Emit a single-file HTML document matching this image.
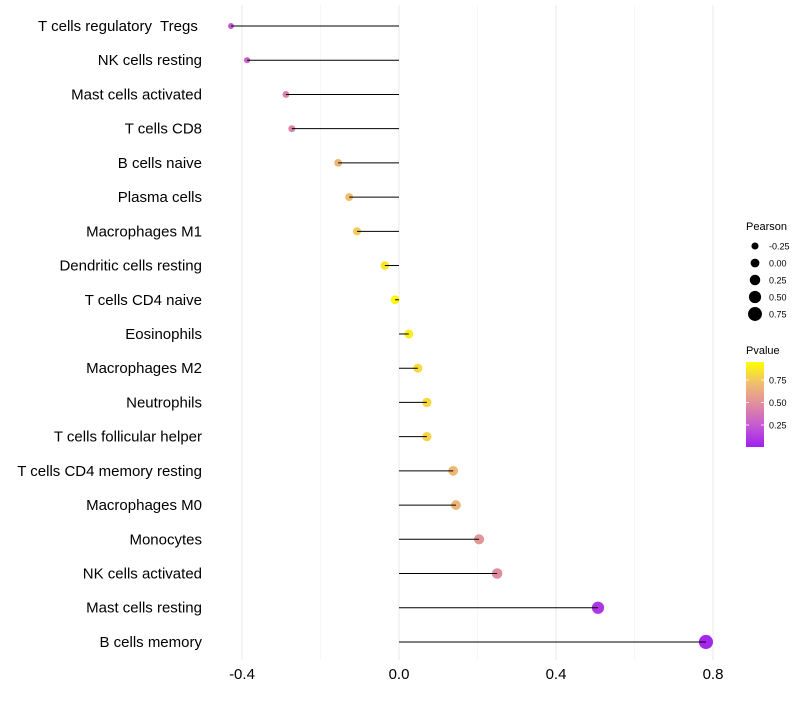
<!DOCTYPE html>
<html><head><meta charset="utf-8"><style>
body{margin:0;background:#fff;font-family:"Liberation Sans",sans-serif}
text{white-space:pre}
</style></head><body>
<svg id="c" width="800" height="700" xmlns="http://www.w3.org/2000/svg"></svg>
<script>
const categories=["T cells regulatory  Tregs ","NK cells resting","Mast cells activated","T cells CD8","B cells naive","Plasma cells","Macrophages M1","Dendritic cells resting","T cells CD4 naive","Eosinophils","Macrophages M2","Neutrophils","T cells follicular helper","T cells CD4 memory resting","Macrophages M0","Monocytes","NK cells activated","Mast cells resting","B cells memory"];
const pearson=[-0.428,-0.387,-0.288,-0.273,-0.155,-0.127,-0.107,-0.036,-0.010,0.025,0.048,0.071,0.071,0.138,0.145,0.204,0.25,0.507,0.782];
const pvalue=[0.25,0.3,0.45,0.45,0.7,0.75,0.8,0.9,0.97,0.93,0.86,0.85,0.83,0.72,0.7,0.55,0.5,0.1,0.03];
const xTicks=[-0.4,0.0,0.4,0.8];
const xMinor=[-0.2,0.2,0.6];
const sizeTicks=[-0.25,0.00,0.25,0.50,0.75];
const colorTicks=[0.25,0.50,0.75];

const NS="http://www.w3.org/2000/svg",svg=document.getElementById('c');
const xs=v=>399+v*392.5;
const ys=i=>26+i*34.22;
const rs=v=>Math.max(1.6,4.4+3.4*v);
const stops=[[0,[160,32,240]],[0.25,[196,90,210]],[0.5,[224,140,160]],[0.75,[240,190,110]],[1,[255,255,0]]];
function col(p){for(let k=1;k<stops.length;k++){if(p<=stops[k][0]){const a=stops[k-1],b=stops[k],t=(p-a[0])/(b[0]-a[0]);return 'rgb('+a[1].map((c,j)=>Math.round(c+(b[1][j]-c)*t)).join(',')+')';}}return 'rgb(255,255,0)';}
function el(t,a,p){const e=document.createElementNS(NS,t);for(const k in a)e.setAttribute(k,a[k]);(p||svg).appendChild(e);return e;}
function fmt(v){return v.toFixed(1);}
xMinor.forEach(v=>{const l=el('line',{x1:xs(v),x2:xs(v),y1:5,y2:660,stroke:'#f2f2f2','stroke-width':0.6});

});
xTicks.forEach(v=>{const l=el('line',{x1:xs(v),x2:xs(v),y1:5,y2:660,stroke:'#ebebeb','stroke-width':1.1});


const t=el('text',{x:xs(v),y:679,'text-anchor':'middle','font-size':15,fill:'#000'});t.textContent=fmt(v);

});
categories.forEach((c,i)=>{const y=ys(i);
const t=el('text',{x:202,y:y+5,'text-anchor':'end','font-size':15,fill:'#000'});t.textContent=c;


const d=el('circle',{cx:xs(pearson[i]),cy:y,r:rs(pearson[i]),fill:col(pvalue[i])});


const l=el('line',{x1:xs(0),x2:xs(pearson[i]),y1:y,y2:y,stroke:'#000','stroke-width':1});

});
let t=el('text',{x:746,y:230,'font-size':11,fill:'#000'});t.textContent='Pearson';


sizeTicks.forEach((v,k)=>{const y=246+k*17;
const c=el('circle',{cx:755,cy:y,r:rs(v),fill:'#000'});


const tt=el('text',{x:769,y:y+3.5,'font-size':9,fill:'#000'});tt.textContent=v.toFixed(2);

});
t=el('text',{x:746,y:354,'font-size':11,fill:'#000'});t.textContent='Pvalue';


const defs=el('defs',{});const g=el('linearGradient',{id:'pg',x1:0,y1:1,x2:0,y2:0},defs);
stops.forEach(s=>el('stop',{offset:s[0],'stop-color':col(s[0])},g));
const r=el('rect',{x:746,y:362,width:18,height:85,fill:'url(#pg)'});


const cb=v=>447-(v-0.006)/0.944*85;
colorTicks.forEach(v=>{const y=cb(v);
el('line',{x1:746,x2:749,y1:y,y2:y,stroke:'#fff','stroke-width':0.8});el('line',{x1:761,x2:764,y1:y,y2:y,stroke:'#fff','stroke-width':0.8});
const tt=el('text',{x:769,y:y+3.5,'font-size':9,fill:'#000'});tt.textContent=v.toFixed(2);

});
</script>
</body></html>
